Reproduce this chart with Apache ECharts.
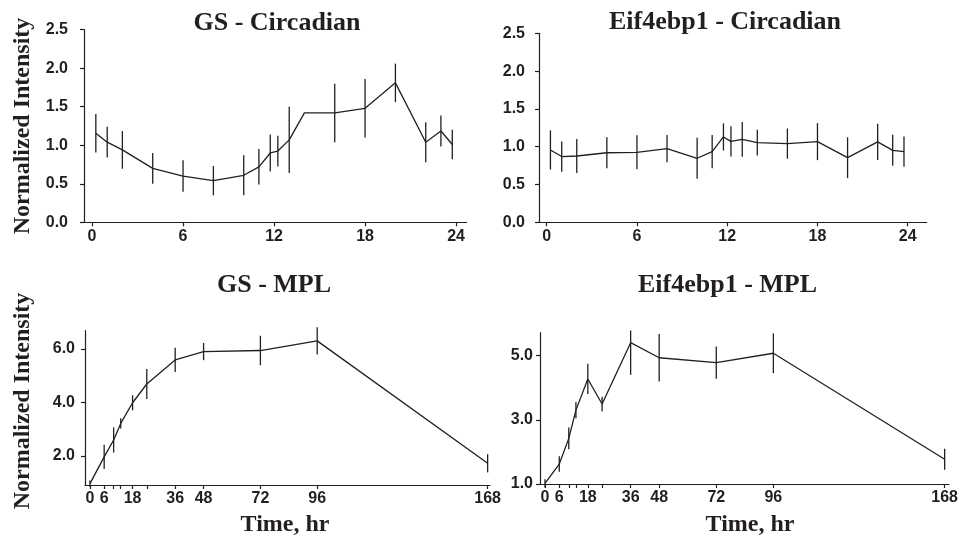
<!DOCTYPE html>
<html>
<head>
<meta charset="utf-8">
<script src="https://cdn.jsdelivr.net/npm/echarts@6/dist/echarts.min.js"></script>
<style>html,body{margin:0;padding:0;background:#fff}#c{width:961px;height:540px}</style>
</head>
<body>
<div id="c"></div>
<script>
// ---- data ----
const circTime = [0.25, 1, 2, 4, 6, 8, 10, 11, 11.75, 12.25, 13, 14, 16, 18, 20, 22, 23, 23.75];
const circTicks = [0, 6, 12, 18, 24];
const gsCircMean = [1.155, 1.04, 0.94, 0.70, 0.60, 0.54, 0.61, 0.72, 0.90, 0.925, 1.07, 1.42, 1.42, 1.48, 1.81, 1.04, 1.185, 1.01];
const gsCircErr  = [0.25, 0.20, 0.245, 0.20, 0.205, 0.19, 0.26, 0.23, 0.24, 0.20, 0.43, 0.0, 0.38, 0.38, 0.25, 0.26, 0.20, 0.19];
const eifCircMean = [0.957, 0.87, 0.877, 0.92, 0.926, 0.974, 0.847, 0.935, 1.129, 1.071, 1.098, 1.054, 1.041, 1.067, 0.855, 1.063, 0.952, 0.935];
const eifCircErr  = [0.26, 0.20, 0.225, 0.205, 0.225, 0.18, 0.27, 0.22, 0.18, 0.20, 0.23, 0.17, 0.20, 0.245, 0.27, 0.24, 0.205, 0.20];

const mplTime = [0, 6, 10, 13, 18, 24, 36, 48, 72, 96, 168];
const mplTickLabels = [0, 6, 18, 36, 48, 72, 96, 168];
const gsMplMean = [0.97, 1.97, 2.60, 3.22, 3.99, 4.69, 5.59, 5.90, 5.94, 6.30, 1.73];
const gsMplErr  = [0.12, 0.45, 0.47, 0.19, 0.28, 0.56, 0.455, 0.32, 0.55, 0.51, 0.34];
const eifMplMean = [1.02, 1.62, 2.42, 3.30, 4.27, 3.49, 5.40, 4.93, 4.78, 5.07, 1.77];
const eifMplErrUp   = [0.13, 0.24, 0.34, 0.25, 0.47, 0.23, 0.38, 0.74, 0.50, 0.62, 0.33];
const eifMplErrDown = [0.13, 0.24, 0.34, 0.25, 0.47, 0.23, 1.00, 0.74, 0.50, 0.62, 0.33];

const circYTicks = [0, 0.5, 1, 1.5, 2, 2.5];
const gsMplYTicks = [2, 4, 6];
const eifMplYTicks = [1, 3, 5];

// ---- styles ----
const INK = '#231f20';
const labelFont = {fontFamily: 'Liberation Sans', fontWeight: 'bold', fontSize: 16, color: INK};

function xAxisDef(gridIndex, min, max, tickVals, labelVals) {
  return {
    type: 'value', gridIndex, min, max,
    axisLine: {show: true, onZero: false, lineStyle: {color: INK, width: 1.2}},
    axisTick: {show: true, length: 4, lineStyle: {color: INK, width: 1.2}, customValues: tickVals},
    axisLabel: Object.assign({margin: 6, customValues: labelVals, formatter: v => String(v)}, labelFont),
    splitLine: {show: false}
  };
}
function yAxisDef(gridIndex, min, max, vals, margin) {
  return {
    type: 'value', gridIndex, min, max,
    axisLine: {show: true, onZero: false, lineStyle: {color: INK, width: 1.2}},
    axisTick: {show: true, length: 4, lineStyle: {color: INK, width: 1.2}, customValues: vals},
    axisLabel: Object.assign({margin, customValues: vals, formatter: v => v.toFixed(1)}, labelFont),
    splitLine: {show: false}
  };
}

function lineSeries(idx, times, mean) {
  return {
    type: 'line', xAxisIndex: idx, yAxisIndex: idx,
    data: times.map((t, i) => [t, mean[i]]),
    showSymbol: false, symbol: 'none',
    lineStyle: {color: INK, width: 1.3},
    animation: false, silent: true
  };
}
function errSeries(idx, times, mean, up, down) {
  return {
    type: 'custom', xAxisIndex: idx, yAxisIndex: idx,
    data: times.map((t, i) => [t, mean[i] - down[i], mean[i] + up[i]]),
    renderItem: function (params, api) {
      const a = api.coord([api.value(0), api.value(1)]);
      const b = api.coord([api.value(0), api.value(2)]);
      return {type: 'line', shape: {x1: a[0], y1: a[1], x2: b[0], y2: b[1]},
              style: {stroke: INK, lineWidth: 1.3}};
    },
    clip: false, animation: false, silent: true
  };
}

function txt(x, y, text, size, rot) {
  return {type: 'text', x, y, rotation: rot || 0,
    style: {text, fill: INK, font: 'bold ' + size + 'px "Liberation Serif"',
            textAlign: 'center', textVerticalAlign: 'middle'}};
}

const chart = echarts.init(document.getElementById('c'), null, {renderer: 'canvas'});
chart.setOption({
  animation: false,
  backgroundColor: '#fff',
  grid: [
    {left: 84, top: 29.7, width: 382.7, height: 192.6},
    {left: 539, top: 33.3, width: 387.7, height: 189},
    {left: 85, top: 330.7, width: 405, height: 154.3},
    {left: 540, top: 332.7, width: 410, height: 151.3}
  ],
  xAxis: [
    xAxisDef(0, -0.53, 24.7, circTicks, circTicks),
    xAxisDef(1, -0.51, 25.26, circTicks, circTicks),
    xAxisDef(2, -2.1, 169, mplTime, mplTickLabels),
    xAxisDef(3, -2.1, 169.8, mplTime, mplTickLabels)
  ],
  yAxis: [
    yAxisDef(0, 0, 2.5, circYTicks, 16),
    yAxisDef(1, 0, 2.5, circYTicks, 14),
    yAxisDef(2, 0.92, 6.68, gsMplYTicks, 10),
    yAxisDef(3, 1.0, 5.71, eifMplYTicks, 7)
  ],
  series: [
    lineSeries(0, circTime, gsCircMean), errSeries(0, circTime, gsCircMean, gsCircErr, gsCircErr),
    lineSeries(1, circTime, eifCircMean), errSeries(1, circTime, eifCircMean, eifCircErr, eifCircErr),
    lineSeries(2, mplTime, gsMplMean), errSeries(2, mplTime, gsMplMean, gsMplErr, gsMplErr),
    lineSeries(3, mplTime, eifMplMean), errSeries(3, mplTime, eifMplMean, eifMplErrUp, eifMplErrDown)
  ],
  graphic: [
    txt(277, 23.5, 'GS - Circadian', 26),
    txt(725, 22.5, 'Eif4ebp1 - Circadian', 26),
    txt(274, 285, 'GS - MPL', 26),
    txt(727.5, 285, 'Eif4ebp1 - MPL', 26),
    txt(285, 525, 'Time, hr', 24),
    txt(750, 525, 'Time, hr', 24),
    txt(23, 126, 'Normalized Intensity', 24, Math.PI / 2),
    txt(23, 401, 'Normalized Intensity', 24, Math.PI / 2)
  ]
});
</script>
</body>
</html>
